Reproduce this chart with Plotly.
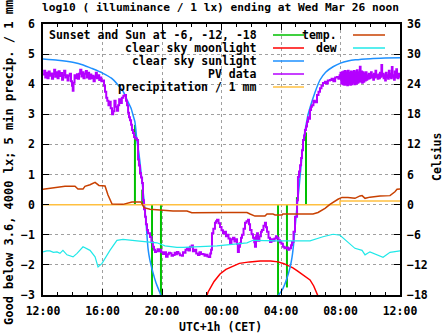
import plotly.graph_objects as go

# ---------------- data (hours after Tue 12:00 CET) ----------------
tick_hours = [0, 4, 8, 12, 16, 20, 24]
tick_labels = ["12:00", "16:00", "20:00", "00:00", "04:00", "08:00", "12:00"]

# Sunset and Sun at -6, -12, -18 (impulses)
sun_hours = [6.18, 6.67, 7.33, 7.93, 15.80, 16.40, 17.07, 17.68]
sun_values = [2.65, 0.50, -3.0, -3.0, -3.0, -2.75, 0.25, 2.40]

# clear sky moonlight
moon_hours = [11.0, 11.1, 11.5, 11.9, 12.3, 12.8, 13.2, 13.9, 14.6, 15.3, 15.8, 16.2,
              16.6, 16.8, 17.1, 17.5, 17.95, 18.2, 18.5]
moon_values = [-3.05, -2.9, -2.55, -2.3, -2.15, -2.03, -1.95, -1.9, -1.87, -1.87, -1.9, -1.96,
               -2.04, -2.1, -2.2, -2.33, -2.5, -2.7, -3.05]

# clear sky sunlight
sunlight_hours = [0, 1.0, 2.0, 2.7, 3.3, 4.0, 4.6, 5.0, 5.4, 5.65, 5.92, 6.05, 6.18, 6.32, 6.45,
                  6.65, 6.79, 6.86, 6.95, 7.06, 7.17, 7.39, 7.6, 7.84, 7.95,
                  None,
                  15.8, 16.07, 16.4, 16.6, 16.74, 16.85, 16.94, 17.05, 17.2, 17.35, 17.5, 17.65,
                  17.8, 18.0, 18.3, 18.62, 19.0, 19.5, 20.0, 20.5, 21.0, 22.0, 23.0, 24.0]
sunlight_values = [4.84, 4.8, 4.73, 4.64, 4.52, 4.37, 4.2, 4.0, 3.75, 3.48, 3.2, 2.98, 2.75, 2.1, 1.7,
                   0.82, 0.15, -0.2, -0.75, -1.45, -1.8, -2.25, -2.6, -2.9, -3.05,
                   None,
                   -3.02, -2.84, -2.44, -2.1, -1.75, -1.3, -0.8, -0.2, 0.5, 1.3, 2.1, 2.55,
                   2.95, 3.3, 3.75, 4.14, 4.4, 4.58, 4.7, 4.77, 4.81, 4.85, 4.87, 4.88]

# PV data
pv_hours = [
    0.00, 0.08, 0.15, 0.22, 0.30, 0.38, 0.45, 0.52, 0.60, 0.68,
    0.75, 0.82, 0.90, 0.98, 1.05, 1.12, 1.20, 1.28, 1.35, 1.42,
    1.50, 1.58, 1.65, 1.72, 1.80, 1.88, 1.95, 2.00, 2.05, 2.12,
    2.20, 2.28, 2.35, 2.42, 2.50, 2.58, 2.65, 2.72, 2.80, 2.88,
    2.95, 3.02, 3.10, 3.18, 3.25, 3.32, 3.40, 3.48, 3.55, 3.62,
    3.70, 3.78, 3.85, 3.92,
    4.00, 4.10, 4.17, 4.25, 4.32, 4.40, 4.47, 4.55, 4.64, 4.72,
    4.80, 4.88, 4.97, 5.05, 5.12, 5.20, 5.30, 5.40, 5.50, 5.58,
    5.65, 5.72, 5.78, 5.85, 5.92, 5.98, 6.05, 6.12, 6.20, 6.32,
    6.39, 6.45, 6.52, 6.59, 6.66, 6.72, 6.79, 6.86, 6.92, 6.99,
    7.06, 7.19, 7.29, 7.39, 7.46, 7.53,
    7.60, 7.70, 7.80, 7.87, 7.95, 8.07, 8.15, 8.27, 8.38, 8.46,
    8.54, 8.64, 8.74, 8.85, 8.93, 9.00, 9.10, 9.20, 9.34, 9.41,
    9.48, 9.58, 9.68, 9.78, 9.88, 10.00, 10.08, 10.18, 10.30, 10.42,
    10.52, 10.62, 10.76, 10.86, 10.96, 11.06, 11.16, 11.24, 11.30, 11.36,
    11.45, 11.56, 11.63, 11.70, 11.80, 11.90, 12.00, 12.10, 12.20, 12.30,
    12.37, 12.47, 12.57, 12.67, 12.77, 12.87, 12.97, 13.04, 13.10, 13.17,
    13.24, 13.31, 13.38, 13.48, 13.58, 13.68, 13.78, 13.85, 13.92, 14.02,
    14.12, 14.20, 14.25, 14.32, 14.39, 14.45, 14.55, 14.65, 14.72, 14.82,
    14.92, 14.99, 15.06, 15.16, 15.26, 15.36, 15.46, 15.56, 15.66, 15.73,
    15.83, 15.93, 16.03, 16.13, 16.23, 16.33, 16.47, 16.57, 16.67, 16.74,
    16.84, 16.94,
    17.08, 17.14, 17.21, 17.28, 17.35, 17.41, 17.48, 17.55, 17.61, 17.68,
    17.75, 17.82, 17.88, 17.95, 18.02, 18.08, 18.18, 18.28, 18.42, 18.52,
    18.62, 18.72, 18.82, 18.95, 19.05, 19.15, 19.29, 19.40, 19.52, 19.64,
    19.76, 19.86, 19.94,
    20.00, 20.05, 20.10, 20.15, 20.20, 20.25, 20.30, 20.35, 20.40, 20.45,
    20.50, 20.55, 20.60, 20.65, 20.70, 20.75, 20.80, 20.85, 20.90, 20.95,
    21.00, 21.05, 21.10, 21.15, 21.20, 21.25, 21.30, 21.35, 21.40, 21.45,
    21.50, 21.55, 21.60, 21.65, 21.70, 21.75, 21.80, 21.85, 21.90, 21.95,
    22.00, 22.05, 22.10, 22.15, 22.20, 22.25, 22.30, 22.35, 22.40, 22.45,
    22.50, 22.55, 22.60, 22.65, 22.70, 22.75, 22.80, 22.85, 22.90, 22.95,
    23.00, 23.05, 23.10, 23.15, 23.20, 23.25, 23.30, 23.35, 23.40, 23.45,
    23.50, 23.55, 23.60, 23.65, 23.70, 23.75, 23.80, 23.85, 23.90, 23.95,
    24.00]
pv_values = [
    4.32, 4.45, 4.22, 4.38, 4.20, 4.42, 4.28, 4.36, 4.18, 4.35,
    4.48, 4.25, 4.40, 4.20, 4.43, 4.27, 4.37, 4.15, 4.30, 4.45,
    4.22, 4.30, 4.12, 4.28, 4.35, 4.10, 3.95, 3.78, 4.05, 4.30,
    4.20, 4.33, 4.18, 4.35, 4.48, 4.26, 4.40, 4.20, 4.35, 4.44,
    4.22, 4.38, 4.18, 4.32, 4.20, 4.28, 4.10, 4.24, 4.38, 4.20,
    4.30, 4.14, 4.22, 4.10,
    4.12, 3.95, 3.75, 3.55, 3.45, 3.30, 3.42, 3.20, 3.00, 3.10,
    3.45, 3.25, 3.12, 3.30, 3.50, 3.38, 3.55, 3.62, 3.64, 3.45,
    3.30, 3.05, 2.90, 2.80, 2.65, 2.48, 2.38, 2.25, 2.20, 2.15,
    1.50, 1.30, 1.05, 0.90, 0.72, 0.15, -0.15, -0.40, -0.65, -0.84,
    -0.95, -1.07, -1.25, -1.40, -1.50, -1.57,
    -1.55, -1.48, -1.55, -1.50, -1.58, -1.64, -1.58, -1.73, -1.65, -1.60,
    -1.61, -1.70, -1.67, -1.60, -1.65, -1.57, -1.62, -1.68, -1.70, -1.58,
    -1.60, -1.50, -1.45, -1.52, -1.40, -1.36, -1.55, -1.50, -1.62, -1.67,
    -1.58, -1.64, -1.65, -1.70, -1.66, -1.72, -1.74, -1.62, -1.50, -0.95,
    -0.80, -0.60, -0.55, -0.50, -0.62, -0.74, -0.85, -0.95, -0.90, -1.05,
    -1.00, -1.12, -1.28, -1.15, -1.10, -1.22, -1.15, -1.30, -1.57, -1.40,
    -1.28, -1.10, -1.00, -0.80, -0.60, -0.55, -0.50, -0.65, -0.84, -0.98,
    -1.10, -1.25, -1.40, -1.05, -0.95, -1.20, -1.05, -0.90, -0.84, -0.70,
    -0.60, -0.75, -0.90, -1.10, -1.24, -1.15, -1.20, -1.12, -1.05, -1.10,
    -1.18, -1.25, -1.30, -1.40, -1.45, -1.42, -1.50, -1.45, -1.35, -1.24,
    -0.90, -0.40,
    0.15, 0.92, 1.10, 1.31, 1.55, 1.81, 2.15, 2.30, 2.48, 2.60,
    2.75, 2.90, 2.85, 3.14, 3.25, 3.30, 3.45, 3.40, 3.64, 3.75,
    3.87, 3.95, 4.04, 4.08, 4.02, 4.12, 4.14, 4.18, 4.10, 4.22,
    4.24, 4.18, 4.30,
    4.38, 4.02, 4.40, 4.00, 4.42, 3.98, 4.44, 4.00, 4.40, 3.97,
    4.45, 4.02, 4.38, 3.98, 4.42, 4.00, 4.40, 4.05, 4.44, 4.00,
    4.40, 4.02, 4.46, 4.05, 4.40, 4.08, 4.58, 4.10, 4.42, 4.05,
    4.40, 4.08, 4.36, 4.12, 4.40, 4.15, 4.30, 4.18, 4.35, 4.20,
    4.28, 4.40, 4.22, 4.30, 4.15, 4.35, 4.22, 4.45, 4.25, 4.30,
    4.18, 4.32, 4.20, 4.38, 4.25, 4.64, 4.28, 4.35, 4.20, 4.30,
    4.12, 4.38, 4.22, 4.30, 4.18, 4.45, 4.24, 4.35, 4.20, 4.57,
    4.25, 4.30, 4.15, 4.42, 4.22, 4.50, 4.28, 4.20, 4.35, 4.25,
    4.30]

# precipitation / 1 mm
precip_hours = [0.0, 19.97, 24.0]
precip_values = [0.0, 0.12, 0.12]

# temperature (Celsius)
temp_hours = [0, 1.0, 1.48, 2.15, 2.35, 2.69, 2.82, 3.16, 3.5, 3.76, 4.17, 4.37, 4.64, 5.38,
              5.65, 5.98, 6.59, 6.79, 7.19, 8.0, 8.74, 9.68, 10.0, 12.57, 13.71, 13.92, 14.25,
              14.92, 15.06, 15.46, 15.6, 16.07, 16.13, 18.15, 18.49, 18.96, 19.29, 19.83, 20.1,
              20.5, 20.97, 21.31, 21.45, 21.65, 21.98, 22.66, 23.33, 23.66, 23.8, 24.0]
temp_values = [3.06, 3.4, 3.66, 3.66, 3.1, 3.1, 3.66, 3.96, 4.44, 3.84, 3.72, 1.92, 0.12, 0.06,
               0.3, 0.54, 0.54, -0.6, -0.9, -1.08, -1.26, -1.26, -1.62, -1.56, -1.56, -1.86, -2.28,
               -2.28, -1.86, -1.86, -2.04, -2.04, -1.86, -1.86, -1.56, -0.72, 0.06, 1.08, 1.44,
               1.44, 1.26, 1.74, 1.8, 1.26, 1.5, 1.74, 1.8, 2.58, 3.06, 3.1]

# dew point (Celsius)
dew_hours = [0, 0.25, 0.47, 0.7, 0.94, 1.14, 1.34, 1.61, 2.02, 2.29, 2.69, 3.16, 3.5, 3.7, 3.97,
             4.5, 4.97, 5.38, 6.32, 7.19, 7.66, 8.2, 8.74, 9.0, 9.41, 11.7, 13.71, 14.12, 15.73,
             17.28, 17.95, 18.82, 19.5, 19.97, 20.5, 20.97, 21.45, 21.65, 21.98, 22.45, 22.86,
             23.33, 23.8, 24.0]
dew_values = [-9.4, -9.2, -9.2, -9.5, -9.4, -9.7, -9.1, -10.0, -10.4, -9.7, -8.4, -9.1, -10.4,
              -12.4, -11.7, -9.1, -7.1, -6.9, -7.2, -7.4, -7.6, -8.2, -8.5, -8.5, -8.5, -8.2,
              -7.6, -7.1, -7.2, -7.2, -7.2, -6.4, -5.9, -6.1, -7.4, -8.7, -9.1, -10.0, -9.4,
              -10.0, -10.5, -9.5, -9.2, -9.2]

legend_col1 = ["Sunset and Sun at -6, -12, -18", "clear sky moonlight", "clear sky sunlight",
               "PV data", "precipitation / 1 mm"]
legend_col2 = ["temp.", "dew"]

# ---------------- styling / layout ----------------
W, H = 447, 335
L, R, T, B = 43, 400, 24, 295
FONT = "DejaVu Sans Mono"
FS = 11.5

C_GREEN = "#00c000"
C_RED = "#ff0000"
C_BLUE = "#1e90ff"
C_PURPLE = "#b400ff"
C_YELLOW = "#ffc040"
C_TEMP = "#c84000"
C_DEW = "#20e8e8"
col1_colors = [C_GREEN, C_RED, C_BLUE, C_PURPLE, C_YELLOW]
col2_colors = [C_TEMP, C_DEW]


def px(x):
    return (x - L) / (R - L)


def py(y):
    return (B - y) / (B - T)


# impulses built from the sun arrays
imp_x, imp_y = [], []
for h, v in zip(sun_hours, sun_values):
    imp_x += [h, h, None]
    imp_y += [0, v, None]

fig = go.Figure()
fig.add_trace(go.Scatter(x=imp_x, y=imp_y, mode="lines", line=dict(color=C_GREEN, width=2),
                         showlegend=False))
fig.add_trace(go.Scatter(x=moon_hours, y=moon_values, mode="lines",
                         line=dict(color=C_RED, width=1.5), showlegend=False))
fig.add_trace(go.Scatter(x=sunlight_hours, y=sunlight_values, mode="lines",
                         line=dict(color=C_BLUE, width=1.5, shape="spline", smoothing=0.6),
                         showlegend=False, connectgaps=False))
fig.add_trace(go.Scatter(x=pv_hours, y=pv_values, mode="lines",
                         line=dict(color=C_PURPLE, width=2, shape="hv"), showlegend=False))
fig.add_trace(go.Scatter(x=precip_hours, y=precip_values, mode="lines",
                         line=dict(color=C_YELLOW, width=1.5, shape="hv"), showlegend=False))
fig.add_trace(go.Scatter(x=temp_hours, y=temp_values, mode="lines", yaxis="y2",
                         line=dict(color=C_TEMP, width=1.5), showlegend=False))
fig.add_trace(go.Scatter(x=dew_hours, y=dew_values, mode="lines", yaxis="y2",
                         line=dict(color=C_DEW, width=1.2), showlegend=False))

tickfont = dict(family=FONT, size=FS, color="black", weight="bold")

fig.update_layout(
    width=W, height=H,
    margin=dict(l=L, r=W - R, t=T, b=H - B),
    paper_bgcolor="white", plot_bgcolor="white",
    font=dict(family=FONT, size=FS, color="black", weight="bold"),
    xaxis=dict(range=[0, 24], tickvals=tick_hours, ticktext=tick_labels,
               ticks="inside", ticklen=6, tickcolor="black", mirror="ticks",
               showline=True, linecolor="black", linewidth=1.5,
               showgrid=True, gridcolor="#a0a0a0", griddash="3px,3px", gridwidth=1,
               zeroline=False, tickfont=tickfont, ticklabelstandoff=4,
               minor=dict(dtick=1, ticks="inside", ticklen=3, tickcolor="black", showgrid=False)),
    yaxis=dict(range=[-3, 6], dtick=1, ticks="inside", ticklen=6, tickcolor="black",
               showline=True, linecolor="black", linewidth=1.5, mirror=True,
               showgrid=True, gridcolor="#a0a0a0", griddash="3px,3px", gridwidth=1,
               zeroline=False, tickfont=tickfont, ticklabelstandoff=4),
    yaxis2=dict(range=[-18, 36], dtick=6, overlaying="y", side="right",
                ticks="inside", ticklen=6, tickcolor="black", showgrid=False,
                zeroline=False, showline=False, tickfont=tickfont, ticklabelstandoff=6),
    showlegend=False,
)

# opaque key area (hides grid behind key)
fig.add_shape(type="rect", xref="paper", yref="paper", x0=px(L + 1), x1=px(337),
              y0=py(92), y1=py(T + 1), fillcolor="white", line=dict(width=0), layer="between")

ann = []
ann.append(dict(text="log10 ( illuminance / 1 lx) ending at Wed Mar 26 noon", x=px(220), y=py(8),
                xref="paper", yref="paper", showarrow=False, xanchor="center", yanchor="middle",
                font=dict(family=FONT, size=11.2, weight="bold")))
ann.append(dict(text="UTC+1h (CET)", x=px(220), y=py(327), xref="paper", yref="paper",
                showarrow=False, xanchor="center", yanchor="middle",
                font=dict(family=FONT, size=FS, weight="bold")))
ann.append(dict(text="Good below 3.6, 4000 lx; 5 min precip. / 1 mm", x=px(9), y=py(163),
                xref="paper", yref="paper", showarrow=False, textangle=-90,
                xanchor="center", yanchor="middle", font=dict(family=FONT, size=12, weight="bold")))
ann.append(dict(text="Celsius", x=px(437), y=py(157), xref="paper", yref="paper",
                showarrow=False, textangle=-90, xanchor="center", yanchor="middle",
                font=dict(family=FONT, size=FS, weight="bold")))

rows = [35, 48, 61, 74, 87]
for i, (lab, col) in enumerate(zip(legend_col1, col1_colors)):
    ann.append(dict(text=lab, x=px(259), y=py(rows[i]), xref="paper", yref="paper",
                    showarrow=False, xanchor="right", yanchor="middle",
                    font=dict(family=FONT, size=FS, weight="bold")))
    fig.add_shape(type="line", xref="paper", yref="paper", x0=px(273), x1=px(304),
                  y0=py(rows[i]), y1=py(rows[i]), line=dict(color=col, width=1.5))
for i, (lab, col) in enumerate(zip(legend_col2, col2_colors)):
    ann.append(dict(text=lab, x=px(339), y=py(rows[i]), xref="paper", yref="paper",
                    showarrow=False, xanchor="right", yanchor="middle",
                    font=dict(family=FONT, size=FS, weight="bold")))
    fig.add_shape(type="line", xref="paper", yref="paper", x0=px(353), x1=px(385),
                  y0=py(rows[i]), y1=py(rows[i]), line=dict(color=col, width=1.5))

fig.update_layout(annotations=ann)
fig.write_html("out.html")
